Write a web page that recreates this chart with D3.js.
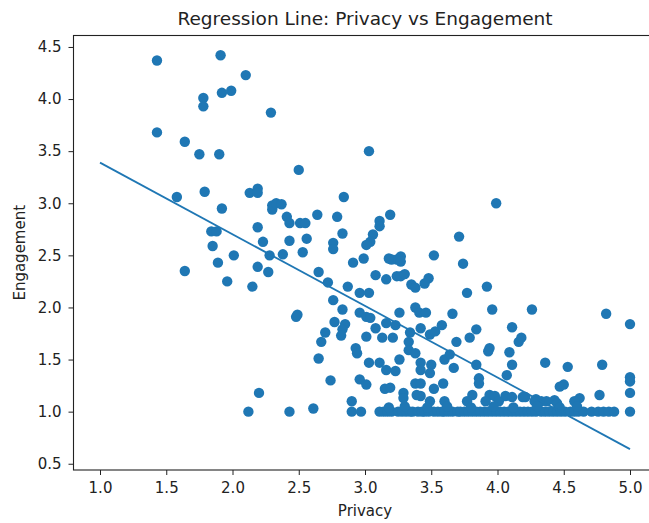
<!DOCTYPE html>
<html>
<head>
<meta charset="utf-8">
<script src="https://cdn.jsdelivr.net/npm/d3@7/dist/d3.min.js"></script>
<style>
  html, body { margin: 0; padding: 0; background: #fff; }
  svg { display: block; }
  text { font-family: "DejaVu Sans", sans-serif; fill: #222; }
</style>
</head>
<body>
<svg id="chart" width="649" height="523"></svg>
<script>
// ---- data ----
const privacy = [
  1.43,1.91,2.10,1.78,1.78,1.92,1.99,2.29,1.43,1.64,1.75,1.90,1.58,1.79,1.92,2.13,2.19,2.19,2.30,2.30,
  2.33,2.19,2.23,1.84,1.88,1.85,1.64,1.89,2.01,1.96,2.15,3.03,2.50,2.84,2.37,2.41,2.43,2.51,2.55,2.64,
  2.79,2.83,3.11,3.11,3.06,3.04,3.01,3.19,2.19,2.27,2.28,2.38,2.43,2.53,2.56,2.76,2.76,2.91,2.99,3.08,
  3.16,3.24,3.24,3.20,2.65,2.72,2.87,2.96,3.03,2.76,2.83,2.96,3.01,3.04,3.16,3.23,2.77,2.85,2.83,2.70,
  2.67,2.82,2.65,2.93,2.94,3.01,3.08,3.13,3.03,3.11,3.16,3.23,2.48,2.49,2.74,2.96,3.01,3.15,3.19,2.20,
  2.90,3.99,3.71,3.74,3.52,3.18,3.27,3.27,3.27,3.30,3.48,3.45,3.35,3.38,3.77,3.92,3.96,4.26,4.82,5.00,
  3.26,3.38,3.41,3.46,3.66,3.21,3.34,3.42,3.49,3.53,3.58,3.84,3.79,3.69,4.11,4.16,4.18,3.33,3.33,3.38,
  3.94,3.93,3.60,3.64,3.84,4.09,4.11,4.36,4.53,4.79,3.26,3.42,3.42,3.50,3.49,3.67,3.86,3.86,4.07,5.00,
  4.47,4.50,3.38,3.42,3.59,3.52,3.29,3.29,3.42,3.81,3.94,3.98,4.06,4.21,4.29,4.43,4.62,4.77,5.00,3.49,
  3.60,3.77,3.91,4.01,4.33,3.39,4.11,4.19,4.28,4.37,4.45,4.58,5.00,
  // bottom row
  2.12,2.43,2.61,2.90,2.97,3.11,3.14,3.17,3.20,3.25,3.28,3.31,3.34,3.36,3.40,3.43,3.45,3.48,3.52,3.55,
  3.58,3.60,3.63,3.66,3.70,3.72,3.75,3.78,3.81,3.84,3.87,3.90,3.93,3.96,3.99,4.02,4.05,4.08,4.11,4.14,
  4.17,4.20,4.23,4.26,4.29,4.33,4.36,4.39,4.42,4.45,4.48,4.51,4.55,4.58,4.61,4.65,4.71,4.76,4.80,4.84,
  4.88,5.00,3.18,3.30,3.47,3.62,3.80,3.97,4.12,4.30,4.47,4.60
];
const engagement = [
  4.37,4.42,4.23,4.01,3.93,4.06,4.08,3.87,3.68,3.59,3.47,3.47,3.06,3.11,2.95,3.10,3.14,3.10,2.98,2.94,
  3.00,2.77,2.63,2.73,2.73,2.59,2.35,2.43,2.50,2.25,2.20,3.50,3.32,3.06,2.99,2.87,2.81,2.81,2.81,2.89,
  2.87,2.71,2.83,2.78,2.70,2.63,2.60,2.89,2.39,2.34,2.50,2.51,2.64,2.53,2.66,2.62,2.56,2.43,2.47,2.31,
  2.27,2.30,2.46,2.46,2.34,2.24,2.20,2.14,2.14,2.07,1.98,1.95,1.91,1.90,1.85,1.83,1.86,1.84,1.79,1.76,
  1.67,1.73,1.51,1.61,1.56,1.72,1.80,1.71,1.47,1.47,1.40,1.39,1.91,1.93,1.30,1.31,1.26,1.22,1.23,1.18,
  1.10,3.00,2.68,2.42,2.50,2.47,2.49,2.44,2.30,2.32,2.28,2.23,2.22,2.19,2.14,2.20,1.98,1.98,1.94,1.84,
  1.95,2.00,1.95,1.95,1.94,1.71,1.76,1.80,1.74,1.77,1.83,1.79,1.71,1.67,1.81,1.67,1.71,1.67,1.59,1.56,
  1.61,1.58,1.50,1.55,1.45,1.57,1.45,1.47,1.43,1.45,1.50,1.47,1.40,1.45,1.37,1.42,1.32,1.27,1.35,1.33,
  1.24,1.26,1.27,1.27,1.27,1.22,1.18,1.13,1.15,1.16,1.16,1.15,1.15,1.14,1.12,1.11,1.13,1.16,1.18,1.10,
  1.10,1.10,1.10,1.10,1.10,1.16,1.14,1.14,1.10,1.10,1.08,1.10,1.29,
  // bottom row
  1.00,1.00,1.03,1.00,1.00,1.00,1.00,1.00,1.00,1.00,1.00,1.00,1.00,1.00,1.00,1.00,1.00,1.00,1.00,1.00,
  1.00,1.00,1.00,1.00,1.00,1.00,1.00,1.00,1.00,1.00,1.00,1.00,1.00,1.00,1.00,1.00,1.00,1.00,1.00,1.00,
  1.00,1.00,1.00,1.00,1.00,1.00,1.00,1.00,1.00,1.00,1.00,1.00,1.00,1.00,1.00,1.00,1.00,1.00,1.00,1.00,
  1.00,1.00,1.04,1.05,1.04,1.05,1.04,1.05,1.04,1.05,1.04,1.05
];
// regression line endpoints
const lineX = [1.0, 5.0];
const lineY = [3.39, 0.64];
const xTicks = [1.0, 1.5, 2.0, 2.5, 3.0, 3.5, 4.0, 4.5, 5.0];
const yTicks = [0.5, 1.0, 1.5, 2.0, 2.5, 3.0, 3.5, 4.0, 4.5];
const titleText = "Regression Line: Privacy vs Engagement";
const xLabel = "Privacy";
const yLabel = "Engagement";

// ---- layout ----
const color = "#1f77b4";
const svg = d3.select("#chart");
const mLeft = 73.5, mRight = 656.5, mTop = 35.5, mBottom = 470;

const x = d3.scaleLinear().domain([0.8, 5.2]).range([mLeft, mRight]);
const y = d3.scaleLinear().domain([0.44, 4.61]).range([mBottom, mTop]);

const pts = privacy.map((p, i) => ({ x: p, y: engagement[i] }));

svg.append("rect").attr("width", 649).attr("height", 523).attr("fill", "#fff");

const plot = svg.append("g");
plot.selectAll("circle").data(pts).enter().append("circle")
  .attr("cx", d => x(d.x)).attr("cy", d => y(d.y)).attr("r", 5.2)
  .attr("fill", color);

plot.append("path")
  .datum(lineX.map((v, i) => [v, lineY[i]]))
  .attr("d", d3.line().x(d => x(d[0])).y(d => y(d[1])))
  .attr("fill", "none").attr("stroke", color).attr("stroke-width", 1.8);

// axes
const xAxis = svg.append("g").attr("transform", `translate(0,${mBottom})`)
  .call(d3.axisBottom(x).tickValues(xTicks).tickFormat(d3.format(".1f")).tickSize(5).tickPadding(7));
const yAxis = svg.append("g").attr("transform", `translate(${mLeft},0)`)
  .call(d3.axisLeft(y).tickValues(yTicks).tickFormat(d3.format(".1f")).tickSize(5).tickPadding(7));
[xAxis, yAxis].forEach(g => {
  g.select(".domain").remove();
  g.selectAll("line").attr("stroke", "#222").attr("stroke-width", 1);
  g.selectAll("text").style("font-size", "15px").attr("fill", "#222")
    .style("font-family", "'DejaVu Sans', sans-serif");
});

// spines
svg.append("rect").attr("x", mLeft).attr("y", mTop)
  .attr("width", mRight - mLeft).attr("height", mBottom - mTop)
  .attr("fill", "none").attr("stroke", "#222").attr("stroke-width", 1.1);

// titles
svg.append("text").attr("x", (mLeft + mRight) / 2).attr("y", 25)
  .attr("text-anchor", "middle").style("font-size", "18.5px").text(titleText);
svg.append("text").attr("x", (mLeft + mRight) / 2).attr("y", 516)
  .attr("text-anchor", "middle").style("font-size", "15px").text(xLabel);
svg.append("text").attr("transform", `translate(25,${(mTop + mBottom) / 2}) rotate(-90)`)
  .attr("text-anchor", "middle").style("font-size", "15px").text(yLabel);
</script>
</body>
</html>
